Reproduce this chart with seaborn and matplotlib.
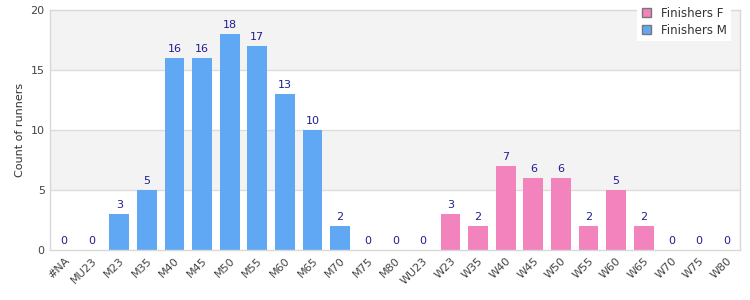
import matplotlib
matplotlib.use("Agg")
import matplotlib.pyplot as plt
from matplotlib.patches import Patch
import pandas as pd
import seaborn as sns

categories = ["#NA", "MU23", "M23", "M35", "M40", "M45", "M50", "M55", "M60",
              "M65", "M70", "M75", "M80", "WU23", "W23", "W35", "W40", "W45",
              "W50", "W55", "W60", "W65", "W70", "W75", "W80"]
counts = [0, 0, 3, 5, 16, 16, 18, 17, 13, 10, 2, 0, 0,
          0, 3, 2, 7, 6, 6, 2, 5, 2, 0, 0, 0]
groups = ["Finishers M"] * 13 + ["Finishers F"] * 12
series_order = ["Finishers F", "Finishers M"]
colors = {"Finishers F": "#f283bd", "Finishers M": "#60a8f4"}

df = pd.DataFrame({"category": categories, "count": counts, "group": groups})

sns.set_style("white")
plt.rcParams["font.family"] = ["DejaVu Sans"]

fig = plt.figure(figsize=(7.5, 3), dpi=100)
ax = fig.add_axes([0.067, 0.167, 0.92, 0.8])

# alternating background bands
for lo, hi, c in [(0, 5, "white"), (5, 10, "#f3f3f3"), (10, 15, "white"), (15, 20, "#f3f3f3")]:
    ax.axhspan(lo, hi, color=c, zorder=0, lw=0)
for y in [5, 10, 15]:
    ax.axhline(y, color="#dddddd", lw=1, zorder=0.5)

sns.barplot(data=df, x="category", y="count", hue="group", hue_order=series_order,
            palette=colors, dodge=False, width=0.72, order=categories,
            saturation=1, legend=False, ax=ax, zorder=2, linewidth=0)

for cont in ax.containers:
    ax.bar_label(cont, fmt="%d", padding=3, fontsize=8, color="#1f1f8f")

ax.set_ylim(0, 20)
ax.set_xlim(-0.5, len(categories) - 0.5)
ax.set_yticks([0, 5, 10, 15, 20])
ax.set_xlabel("")
ax.set_ylabel("Count of runners", fontsize=8, color="#333333")
ax.tick_params(axis="both", length=0, labelsize=8, labelcolor="#444444", pad=4)
plt.setp(ax.get_xticklabels(), rotation=45, ha="right", rotation_mode="anchor")
for s in ax.spines.values():
    s.set_color("#d8d8d8")
    s.set_linewidth(1)

handles = [Patch(facecolor=colors[g], edgecolor="#777777", label=g) for g in series_order]
leg = fig.legend(handles=handles, loc="upper right", bbox_to_anchor=(0.983, 1.012),
                 fontsize=8.5, frameon=True, fancybox=False, framealpha=1,
                 handlelength=0.8, handleheight=0.8, borderpad=0.4, labelspacing=0.3,
                 handletextpad=0.8)
leg.get_frame().set_linewidth(0)
for t in leg.get_texts():
    t.set_color("#333333")

fig.savefig("out.png", dpi=100)
